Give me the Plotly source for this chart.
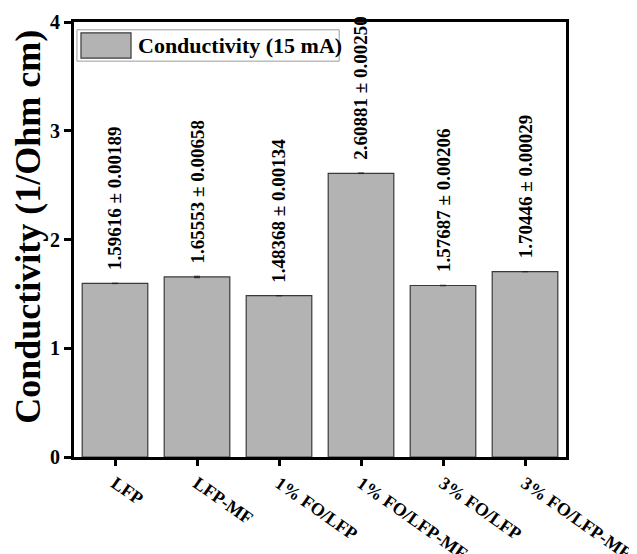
import plotly.graph_objects as go

categories = ["LFP", "LFP-MF", "1% FO/LFP", "1% FO/LFP-MF", "3% FO/LFP", "3% FO/LFP-MF"]
conductivity = [1.59616, 1.65553, 1.48368, 2.60881, 1.57687, 1.70446]
errors = [0.00189, 0.00658, 0.00134, 0.00250, 0.00206, 0.00029]
series_name = "Conductivity (15 mA)"
y_title = "Conductivity (1/Ohm cm)"
y_ticks = [0, 1, 2, 3, 4]

FONT = "Liberation Serif"
BAR_FILL = "#b3b3b3"
BAR_EDGE = "#3a3a3a"

fig = go.Figure()
fig.add_trace(go.Bar(
    x=categories, y=conductivity, name=series_name,
    width=0.8,
    marker=dict(color=BAR_FILL, line=dict(color=BAR_EDGE, width=1.2)),
    error_y=dict(type="data", array=errors, visible=True, color="#222222", thickness=1, width=3),
    showlegend=False,
))

for c, v, e in zip(categories, conductivity, errors):
    fig.add_annotation(
        x=c, y=v, text=f"{v:.5f} ± {e:.5f}", textangle=-90,
        showarrow=False, yanchor="bottom", xanchor="center", yshift=11,
        font=dict(family=FONT, size=19, color="black", weight="bold"),
    )

# y-axis title placed as rotated text left of the tick labels
fig.add_annotation(
    xref="paper", yref="paper", x=-0.093, y=0.53, text=y_title, textangle=-90,
    showarrow=False, xanchor="center", yanchor="middle",
    font=dict(family=FONT, size=36, color="black", weight="bold"),
)

# legend box (wide swatch as in the reference)
fig.add_shape(type="rect", xref="paper", yref="paper", x0=0.006, x1=0.539, y0=0.910, y1=0.982,
              line=dict(color="#9a9a9a", width=1), fillcolor="white", layer="above")
fig.add_shape(type="rect", xref="paper", yref="paper", x0=0.0142, x1=0.1159, y0=0.917, y1=0.975,
              line=dict(color=BAR_EDGE, width=1.2), fillcolor=BAR_FILL, layer="above")
fig.add_annotation(
    xref="paper", yref="paper", x=0.126, y=0.946, text=series_name,
    showarrow=False, xanchor="left", yanchor="middle",
    font=dict(family=FONT, size=22, color="black", weight="bold"),
)

fig.update_layout(
    width=637, height=554,
    margin=dict(l=66, r=79, t=14, b=105),
    paper_bgcolor="white", plot_bgcolor="white",
    font=dict(family=FONT, color="black", weight="bold"),
    showlegend=False,
    xaxis=dict(
        range=[-0.5, 5.5], showline=True, linecolor="black", linewidth=3, mirror=True,
        ticks="outside", ticklen=6, tickwidth=3, tickcolor="black",
        tickangle=35, tickfont=dict(family=FONT, size=18, color="black", weight="bold"),
        showgrid=False, zeroline=False, automargin=False,
    ),
    yaxis=dict(
        range=[0, 4], tickvals=y_ticks, showline=True, linecolor="black", linewidth=3, mirror=True,
        ticks="outside", ticklen=7, tickwidth=3, tickcolor="black",
        tickfont=dict(family=FONT, size=20, color="black", weight="bold"),
        showgrid=False, zeroline=False, automargin=False,
    ),
)

fig.write_html("out.html")
